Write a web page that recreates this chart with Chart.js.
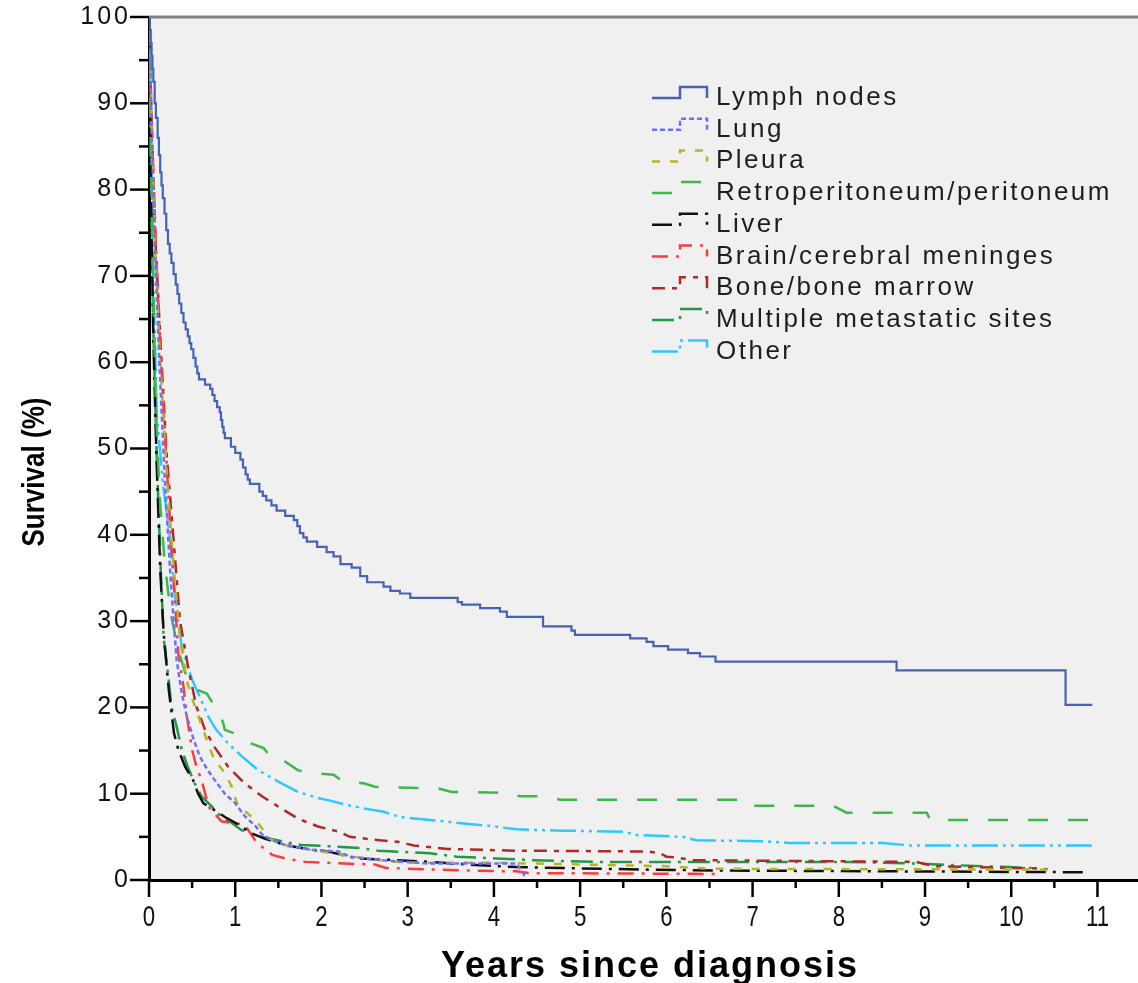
<!DOCTYPE html>
<html>
<head>
<meta charset="utf-8">
<title>Survival by metastatic site</title>
<script src="https://cdn.jsdelivr.net/npm/chart.js@4.4.1/dist/chart.umd.min.js"></script>
<style>
  html, body { margin: 0; padding: 0; background: #fff; }
  #wrap { width: 1138px; height: 983px; }
</style>
</head>
<body>
<div id="wrap"><canvas id="survivalChart" width="1138" height="983"></canvas></div>
<script>
// Kaplan-Meier curves, [years, survival %]
const lymphNodes = [[0,100],[0.01,98.5],[0.02,97],[0.03,95.5],[0.04,94],[0.05,92.5],[0.066,90],[0.08,88.3],[0.1,86],[0.115,84],[0.13,82],[0.145,80.5],[0.16,79],[0.18,77.2],[0.2,75.3],[0.22,73.7],[0.24,72.6],[0.26,71.5],[0.285,70.2],[0.31,69],[0.33,67.9],[0.35,66.8],[0.375,65.7],[0.40,64.6],[0.425,63.8],[0.45,63],[0.47,62.2],[0.49,61.5],[0.515,60.5],[0.54,59.5],[0.56,58.7],[0.58,58],[0.65,57.4],[0.71,56.9],[0.735,56.2],[0.76,55.5],[0.79,54.8],[0.82,54.2],[0.835,53.3],[0.85,52.5],[0.865,51.8],[0.88,51.2],[0.95,50.2],[1.0,49.5],[1.06,48.7],[1.09,47.8],[1.12,47],[1.145,46.4],[1.17,45.9],[1.28,45],[1.32,44.5],[1.36,44],[1.42,43.4],[1.48,42.8],[1.58,42.2],[1.68,41.7],[1.72,41],[1.75,40.2],[1.79,39.7],[1.83,39.2],[1.95,38.6],[2.06,38.0],[2.14,37.5],[2.22,36.6],[2.35,36.2],[2.45,35.2],[2.53,34.5],[2.72,34.0],[2.80,33.5],[2.91,33.2],[3.03,32.7],[3.58,32.2],[3.63,31.9],[3.84,31.5],[4.07,31.1],[4.15,30.5],[4.57,29.4],[4.90,28.9],[4.94,28.4],[5.58,28.0],[5.77,27.6],[5.85,27.1],[6.02,26.7],[6.25,26.3],[6.39,25.9],[6.57,25.3],[8.67,24.3],[10.63,20.3],[10.94,20.3]];
const lung = [[0,100],[0.03,87],[0.07,73],[0.12,60],[0.18,47],[0.25,35],[0.32,25.5],[0.38,21.6],[0.44,18.9],[0.52,16.2],[0.59,14.3],[0.67,12.9],[0.76,11.6],[0.88,10.0],[1.0,8.9],[1.11,7.4],[1.23,6.3],[1.31,5.3],[1.43,4.6],[1.58,4.05],[1.89,3.5],[2.2,3.3],[2.33,2.7],[2.68,2.3],[3.26,1.9],[4.26,1.9],[4.33,1.0],[4.36,0.4]];
const pleura = [[0,100],[0.03,88],[0.07,74],[0.12,62],[0.2,48],[0.28,37],[0.36,28],[0.44,23],[0.52,20.5],[0.59,18.5],[0.70,15.4],[0.76,13.9],[0.88,12.4],[0.96,10.8],[1.02,8.9],[1.11,8.0],[1.23,7.0],[1.31,6.0],[1.39,4.8],[1.62,3.9],[1.89,3.5],[2.12,3.1],[2.5,2.5],[3.0,2.0],[4.0,2.0],[4.5,1.9],[5.5,1.7],[6.0,1.6],[6.5,1.3],[10.4,1.2],[10.45,0.6]];
const retroperitoneum = [[0,100],[0.02,85],[0.05,68],[0.08,55],[0.12,45],[0.18,37],[0.25,31],[0.33,27],[0.42,24],[0.5,22.5],[0.57,22.0],[0.67,21.6],[0.72,20.8],[0.77,20.1],[0.82,19.3],[0.86,18.2],[0.88,17.4],[1.04,16.8],[1.19,15.8],[1.33,15.3],[1.42,14.1],[1.58,13.7],[1.73,12.7],[1.91,12.4],[2.14,12.2],[2.25,11.4],[2.49,11.2],[2.62,10.8],[3.36,10.6],[3.51,10.2],[4.19,10.1],[4.30,9.7],[4.61,9.7],[4.77,9.3],[6.89,9.3],[6.95,8.6],[7.93,8.6],[8.09,7.8],[9.02,7.8],[9.06,6.95],[10.95,6.95]];
const liver = [[0,100],[0.01,90],[0.03,75],[0.05,63],[0.09,48],[0.13,36],[0.17,28.6],[0.23,22.0],[0.29,17.0],[0.34,15.1],[0.42,13.1],[0.51,11.6],[0.57,10.0],[0.63,8.9],[0.76,8.1],[0.88,7.3],[1.04,6.4],[1.19,5.4],[1.34,4.8],[1.58,4.05],[1.89,3.5],[2.12,3.2],[2.41,2.5],[2.87,2.3],[3.26,2.1],[3.84,1.7],[4.26,1.5],[5.0,1.35],[5.8,1.2],[6.58,1.1],[10.85,0.9]];
const brain = [[0,100],[0.02,92],[0.05,82],[0.09,71],[0.13,62],[0.2,49],[0.27,37],[0.34,26.3],[0.40,22.4],[0.44,18.9],[0.50,15.1],[0.54,13.5],[0.62,11.2],[0.69,8.5],[0.76,7.7],[0.84,6.8],[1.11,6.4],[1.23,4.6],[1.35,3.5],[1.43,2.9],[1.58,2.5],[1.81,2.1],[2.27,1.9],[2.62,1.8],[2.75,1.4],[3.65,1.1],[4.26,1.0],[4.42,0.8],[6.6,0.7]];
const bone = [[0,100],[0.03,88],[0.07,75],[0.13,63],[0.2,50],[0.28,40],[0.36,30],[0.46,24.3],[0.55,20.1],[0.65,17.4],[0.76,15.4],[0.92,13.1],[1.11,11.2],[1.31,9.7],[1.50,8.5],[1.73,7.1],[1.96,6.2],[2.20,5.6],[2.33,5.0],[2.68,4.6],[2.91,4.4],[3.07,4.0],[3.46,3.6],[4.23,3.4],[5.8,3.3],[5.93,3.1],[6.0,2.7],[6.12,2.6],[6.31,2.3],[8.9,2.1],[9.1,1.6],[10.25,1.35],[10.42,1.25]];
const multipleSites = [[0,100],[0.01,90],[0.03,76],[0.05,64],[0.09,49],[0.14,35],[0.17,28],[0.22,23.9],[0.26,20.1],[0.32,17.8],[0.38,15.1],[0.45,13.1],[0.53,11.2],[0.61,9.7],[0.73,8.5],[0.84,7.3],[0.96,6.6],[1.07,5.8],[1.23,5.2],[1.39,4.8],[1.58,4.4],[1.77,4.05],[2.12,3.9],[2.45,3.7],[2.66,3.4],[3.26,3.1],[3.57,2.7],[4.03,2.5],[4.46,2.3],[5.2,2.1],[8.12,2.1],[8.9,1.9],[9.4,1.7],[9.98,1.5],[10.3,1.35]];
const other = [[0,100],[0.02,90],[0.05,70],[0.09,54],[0.16,46],[0.24,40],[0.30,33],[0.38,27],[0.50,23.2],[0.59,21.2],[0.69,18.9],[0.78,17.4],[0.92,15.8],[1.08,14.3],[1.27,12.7],[1.50,11.4],[1.73,10.2],[1.96,9.5],[2.1,9.2],[2.29,8.7],[2.49,8.3],[2.72,7.9],[2.91,7.3],[3.26,6.95],[3.65,6.56],[3.96,6.26],[4.26,5.87],[4.80,5.72],[5.50,5.6],[5.66,5.2],[6.19,5.0],[6.35,4.6],[7.09,4.5],[7.43,4.3],[8.51,4.3],[8.83,4.0],[10.95,4.0]];

const seriesLabels = ['Lymph nodes', 'Lung', 'Pleura', 'Retroperitoneum/peritoneum', 'Liver',
  'Brain/cerebral meninges', 'Bone/bone marrow', 'Multiple metastatic sites', 'Other'];
const seriesData = [lymphNodes, lung, pleura, retroperitoneum, liver, brain, bone, multipleSites, other];

const xTickValues = [0, 1, 2, 3, 4, 5, 6, 7, 8, 9, 10, 11];
const yTickValues = [0, 10, 20, 30, 40, 50, 60, 70, 80, 90, 100];

// line styles (kept apart from the data)
const seriesColors = ['#4562b5', '#6f6fff', '#b5b524', '#3cb94a', '#111111', '#ff3a3a', '#b02828', '#229944', '#2ec8ff'];
const seriesDash = [[], [5, 3], [8, 10], [20, 20], [20, 7, 3, 7], [16, 8, 3, 8], [13, 7, 5, 7], [22, 7, 3, 7], [26, 5, 3, 5, 3, 5]];

const survivalFrame = {
  id: 'survivalFrame',
  beforeDraw(chart) {
    const { ctx, chartArea: a } = chart;
    ctx.save();
    ctx.fillStyle = '#f0f0f0';
    ctx.fillRect(a.left, a.top, a.right - a.left, a.bottom - a.top);
    ctx.restore();
    ctx.letterSpacing = '3px';
  },
  afterDraw(chart) {
    const { ctx, chartArea: a, scales: { x, y } } = chart;
    ctx.letterSpacing = '0px';
    ctx.save();

    // top frame line
    ctx.strokeStyle = '#808080';
    ctx.lineWidth = 3;
    ctx.beginPath();
    ctx.moveTo(a.left, a.top);
    ctx.lineTo(a.right, a.top);
    ctx.stroke();

    // major / minor tick marks
    ctx.strokeStyle = '#000';
    ctx.lineWidth = 2.5;
    for (let v = 0; v <= 100; v += 5) {
      const py = y.getPixelForValue(v);
      const len = v % 10 === 0 ? 19 : 10;
      ctx.beginPath();
      ctx.moveTo(a.left - len, py);
      ctx.lineTo(a.left, py);
      ctx.stroke();
    }
    for (let v = 0; v <= 11; v += 0.5) {
      const px = x.getPixelForValue(v);
      const len = v % 1 === 0 ? 17 : 8;
      ctx.beginPath();
      ctx.moveTo(px, a.bottom);
      ctx.lineTo(px, a.bottom + len);
      ctx.stroke();
    }

    // x tick labels, condensed like the original
    ctx.fillStyle = '#111';
    ctx.font = "30px 'Liberation Sans', Arial, sans-serif";
    ctx.textAlign = 'center';
    ctx.textBaseline = 'alphabetic';
    xTickValues.forEach(v => {
      ctx.save();
      ctx.translate(x.getPixelForValue(v), 926);
      ctx.scale(0.74, 1);
      ctx.fillText(String(v), 0, 0);
      ctx.restore();
    });

    // legend with step-shaped samples
    ctx.font = "26px 'Liberation Sans', Arial, sans-serif";
    ctx.textAlign = 'left';
    chart.data.datasets.forEach((ds, i) => {
      const base = 105 + i * 31.7;
      ctx.save();
      ctx.strokeStyle = ds.borderColor;
      ctx.lineWidth = 2.5;
      ctx.setLineDash(ds.borderDash || []);
      ctx.beginPath();
      ctx.moveTo(652, base - 7);
      ctx.lineTo(680, base - 7);
      ctx.lineTo(680, base - 18);
      ctx.lineTo(707, base - 18);
      ctx.lineTo(707, base - 7);
      ctx.stroke();
      ctx.restore();
      ctx.letterSpacing = '2.5px';
      ctx.fillStyle = '#1e1e1e';
      ctx.fillText(ds.label, 716, base);
    });

    // axis titles
    ctx.fillStyle = '#000';
    ctx.letterSpacing = '2px';
    ctx.font = "bold 36px 'Liberation Sans', Arial, sans-serif";
    ctx.textAlign = 'center';
    ctx.fillText('Years since diagnosis', 650, 977);

    ctx.letterSpacing = '0px';
    ctx.font = "bold 31px 'Liberation Sans', Arial, sans-serif";
    ctx.translate(44, 472);
    ctx.rotate(-Math.PI / 2);
    ctx.scale(0.84, 1);
    ctx.fillText('Survival (%)', 0, 0);
    ctx.restore();
    ctx.letterSpacing = '0px';
  }
};

const ctx = document.getElementById('survivalChart').getContext('2d');
new Chart(ctx, {
  type: 'line',
  data: {
    datasets: seriesData.map((pts, i) => ({
      label: seriesLabels[i],
      data: pts.map(([t, s]) => ({ x: t, y: s })),
      borderColor: seriesColors[i],
      borderDash: seriesDash[i],
      borderWidth: i === 0 ? 2.2 : 2.5,
      stepped: i === 0 ? 'before' : false,
      tension: 0,
      pointRadius: 0,
      fill: false
    }))
  },
  options: {
    responsive: false,
    animation: false,
    layout: { padding: { top: 17, right: 0, left: 0, bottom: 0 } },
    plugins: {
      legend: { display: false },
      tooltip: { enabled: false }
    },
    scales: {
      x: {
        type: 'linear',
        min: 0,
        max: 11.47,
        afterBuildTicks: s => { s.ticks = xTickValues.map(v => ({ value: v })); },
        afterFit: s => { s.height = 103; s.paddingLeft = 0; s.paddingRight = 0; },
        grid: { display: false, drawTicks: false },
        border: { display: true, color: '#000', width: 3 },
        ticks: { display: false }
      },
      y: {
        type: 'linear',
        min: 0,
        max: 100,
        afterBuildTicks: s => { s.ticks = yTickValues.map(v => ({ value: v })); },
        afterFit: s => { s.width = 149; s.paddingTop = 0; s.paddingBottom = 0; },
        grid: { display: false, drawTicks: false },
        border: { display: true, color: '#000', width: 3 },
        ticks: {
          padding: 18,
          color: '#111',
          font: { family: "'Liberation Sans', Arial, sans-serif", size: 25 }
        }
      }
    }
  },
  plugins: [survivalFrame]
});
</script>
</body>
</html>
